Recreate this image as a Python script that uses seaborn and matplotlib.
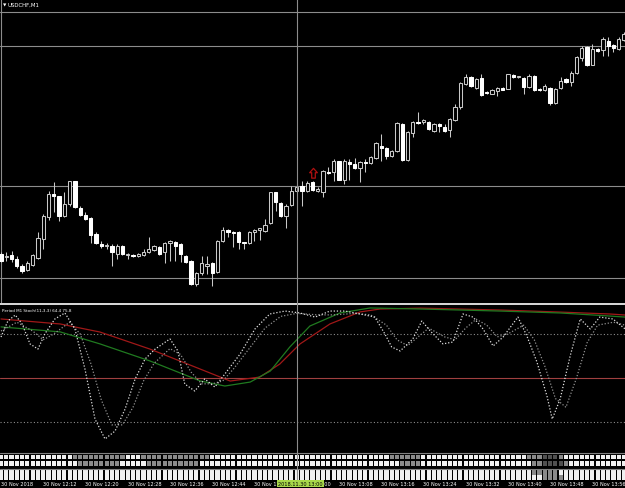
import numpy as np
import pandas as pd
import matplotlib
matplotlib.use("Agg")
import matplotlib.pyplot as plt
from matplotlib.lines import Line2D
from matplotlib.path import Path
import seaborn as sns

# ---------------- data (price in chart points) ----------------
opens = [45, 42, 44, 40, 33, 29, 34, 41, 60, 82, 105, 103, 83, 95, 118, 91, 84, 81, 65, 55,
         53, 53, 45, 53, 44, 44, 43, 44, 47, 49, 52, 47, 56, 57, 55, 43, 38, 15, 26, 33,
         36, 27, 58, 69, 67, 67, 57, 56, 67, 69, 68, 76, 107, 96, 83, 94, 108, 113, 108, 117,
         108, 107, 127, 127, 138, 119, 137, 135, 131, 137, 136, 141, 153, 151, 143, 148, 175, 139, 166, 177,
         177, 177, 168, 175, 172, 169, 179, 192, 215, 222, 211, 221, 207, 205, 208, 211, 210, 224, 222, 221,
         212, 223, 210, 209, 211, 196, 211, 220, 217, 226, 241, 252, 234, 250, 249, 258, 254, 250, 259]
highs = [47, 47, 48, 43, 35, 38, 45, 67, 85, 108, 117, 103, 107, 118, 118, 93, 87, 82, 67, 58,
         56, 55, 55, 54, 46, 45, 46, 50, 62, 54, 53, 57, 59, 58, 56, 44, 39, 27, 43, 43,
         37, 59, 72, 70, 68, 68, 57, 68, 70, 71, 80, 107, 107, 97, 95, 113, 115, 118, 118, 118,
         112, 129, 132, 140, 138, 140, 140, 141, 138, 140, 143, 157, 165, 152, 149, 177, 176, 168, 178, 187,
         180, 178, 176, 176, 175, 181, 195, 217, 225, 223, 221, 225, 208, 210, 212, 212, 225, 225, 223, 222,
         225, 224, 211, 215, 212, 211, 222, 221, 228, 243, 253, 253, 255, 251, 262, 262, 255, 262, 267]
lows = [37, 38, 37, 31, 26, 28, 33, 40, 50, 79, 87, 78, 82, 93, 91, 83, 79, 56, 55, 51,
        50, 33, 40, 44, 40, 42, 42, 43, 46, 48, 44, 36, 38, 38, 37, 36, 14, 13, 24, 25,
        13, 26, 57, 62, 52, 50, 50, 55, 58, 59, 67, 75, 88, 82, 71, 93, 107, 93, 107, 108,
        107, 102, 125, 118, 119, 115, 119, 130, 117, 127, 135, 140, 138, 140, 142, 147, 138, 138, 162, 175,
        175, 169, 167, 167, 167, 162, 178, 190, 214, 212, 210, 203, 205, 205, 203, 209, 210, 221, 221, 205,
        211, 208, 208, 208, 194, 195, 210, 216, 213, 225, 238, 233, 234, 247, 243, 243, 247, 249, 258]
closes = [38, 43, 40, 33, 28, 36, 44, 61, 83, 105, 103, 83, 95, 118, 92, 84, 80, 64, 56, 53,
          53, 47, 53, 45, 44, 43, 45, 47, 50, 53, 45, 56, 58, 53, 45, 37, 15, 26, 36, 35,
          26, 58, 69, 67, 66, 57, 56, 67, 69, 71, 74, 107, 97, 83, 93, 108, 112, 108, 116, 109,
          110, 128, 126, 138, 119, 138, 135, 131, 137, 136, 142, 156, 151, 143, 148, 176, 139, 167, 177, 176,
          179, 170, 175, 173, 168, 180, 192, 216, 222, 213, 220, 204, 206, 209, 211, 209, 225, 222, 222, 212,
          223, 209, 209, 213, 196, 210, 218, 217, 226, 242, 251, 234, 250, 248, 260, 253, 251, 260, 265]

level_lines = [287, 253, 113, 21]          # horizontal lines on the price panel
arrow_bar, arrow_level = 59, 122             # red "up" signal arrow

# stochastic (dotted) main & signal lines: (bar, value)
stoch_main_bar = [0, 1.3, 2.7, 4, 5.5, 7, 8.3, 10.2, 12.1, 14, 15.9, 17.8, 19.7, 21.6, 23.5, 25.4, 27.3, 29.2,
                  32, 33.5, 34.8, 36.7, 38.6, 40.5, 42.4, 45.3, 48.1, 50.9, 53.8, 56.6, 59.5, 62.3, 65.2, 68,
                  70.8, 72.7, 74, 75.6, 78, 79.7, 81.3, 83.7, 85.6, 87.5, 89.4, 91.3, 93.2, 95.1, 97.9, 99.6,
                  101.5, 103.4, 104.4, 105.9, 107.8, 109.7, 111.6, 113.4, 115.9, 118.2]
stoch_main_val = [77.9, 88.8, 92.9, 86.8, 73.2, 69.7, 80, 90.2, 94.3, 83.4, 56.1, 22, 8.4, 13.8, 28.8, 49.3, 63, 69.7,
                  76.6, 68.4, 45.9, 41.1, 49.3, 43.8, 52.7, 66.4, 83.4, 93.6, 95.6, 94.3, 91.5, 95.6, 95.6, 93.6,
                  91.5, 80, 71.1, 68.4, 76.6, 88.8, 82, 73.2, 74.5, 93.6, 91.5, 83.4, 71.8, 77.9, 91.5, 78.6,
                  60.9, 37.7, 22, 35.6, 65, 90.2, 83.4, 91.5, 90.2, 83.4]
stoch_sig_bar = [0, 3, 6, 8, 10, 13, 15, 17, 19, 21, 23, 25, 27, 29, 32, 34, 36, 38, 40, 42, 44, 47, 50, 53, 56,
                 60, 63, 67, 70, 73, 75, 77, 79, 81, 84, 86, 88, 90, 92, 94, 96, 99, 101, 103, 105, 107, 109,
                 111, 113, 116, 118.2]
stoch_sig_val = [82, 88, 82, 76, 80, 88, 80, 60, 35, 18, 18, 30, 48, 60, 70, 66, 54, 46, 46, 48, 56, 70, 84, 92, 94,
                 93, 93, 94, 93, 86, 76, 72, 78, 84, 78, 76, 84, 90, 86, 78, 80, 86, 76, 58, 36, 30, 50,
                 74, 86, 88, 86]

# higher-period stochastic lines (red = main, green = signal)
red_bar = [0, 11.2, 18.75, 28.2, 37.7, 43.4, 49, 52.8, 56.6, 62.3, 68, 71.8, 79.4, 94.5, 105.9, 115.3, 118.2]
red_val = [90.2, 86.8, 81.3, 69.7, 56.1, 47.9, 50.6, 59.5, 73.1, 86.8, 95, 97, 97.6, 96.3, 94.9, 93.6, 92.9]
green_bar = [0, 11.2, 18.75, 28.2, 37.7, 42.4, 47.2, 51, 54.7, 58.5, 64.2, 69.9, 79.4, 94.5, 105.9, 115.3, 118.2]
green_val = [84.8, 81.4, 73.2, 61.6, 48, 44.5, 47.2, 54.7, 71.1, 85.4, 94.3, 97.7, 97, 95.6, 94.3, 92.2, 91.5]
stoch_levels = [80, 50, 20]

time_labels = ["30 Nov 2018", "30 Nov 12:12", "30 Nov 12:20", "30 Nov 12:28", "30 Nov 12:36",
               "30 Nov 12:44", "30 Nov 12:52", "30 Nov 13:00", "30 Nov 13:08", "30 Nov 13:16",
               "30 Nov 13:24", "30 Nov 13:32", "30 Nov 13:40", "30 Nov 13:48", "30 Nov 13:56"]
time_label_bars = [0, 8, 16, 24, 32, 40, 48, 56, 64, 72, 80, 88, 96, 104, 112]
cursor_bar = 56
cursor_label = "2018.11.30 13:00"

# bottom strip: block brightness per bar (W = white, G = grey, D = dark grey)
strip_rows = [
    "WWWWWWWWWWWWWWGGGGGGGGGGWWWGGGGGGGGGGGGGWWWWWWWWWWWWWWWWWWWWWWWWWWWWWWWWWWGGGGGGWWWWWWWWWWWWWWWWWWWWGGGDDDGWWWWWWWWWWWW",
    "WWWWWWWWWWWWWWWGGGGGGGGWWWWWGGGGGGGGGGWWWWWWWWWWWWWWWWWWWWWWWWWWWWWWWWWWWWWWGGGGWWWWWWWWWWWWWWWWWWWWWGGDDDDGWWWWWWWWWWW",
    "WWWWWWWWWWWWWWWWWWWWWWWWWWWWWWWWWWWWWWWWWWWWWWWWWWWWWWWWWWWWWWWWWWWWWWWWWWWWWWWWWWWWWWWWWWWWWWWWWWWWWGGGGGWWWWWWWWWWWWW",
    "WWWWWWWWWWWWWWWWWWWWWWWWWWWWWWWWWWWWWWWWWWWWWWWWWWWWWWWWWWWWWWWWWWWWWWWWWWWWWWWWWWWWWWWWWWWWWWWWWWWWWWWGGGGWWWWWWWWWWWWW",
]

# ---------------- figure ----------------
W, H = 625, 489
sns.set_style("dark", {"axes.facecolor": "black", "figure.facecolor": "black"})
plt.rcParams["font.family"] = ["DejaVu Sans"]

fig = plt.figure(figsize=(W / 100, H / 100), dpi=100, facecolor="black")

def px_axes(top, bottom):
    return fig.add_axes([0, 1 - bottom / H, 1, (bottom - top) / H])

x0, x1 = -1 / 5.28, (W - 1) / 5.28

# price panel
ax = px_axes(0, 304)
ax.set_facecolor("black")
ax.set_xlim(x0, x1)
ax.set_ylim(-4, 300)
for s in ax.spines.values():
    s.set_visible(False)
ax.set_xticks([]); ax.set_yticks([])

n = len(opens)
bars = np.arange(n)
df = pd.DataFrame({"bar": bars, "open": opens, "high": highs, "low": lows, "close": closes})

for lv in level_lines:
    ax.axhline(lv, color="#8c8c8c", lw=0.8, zorder=1)
ax.axvline(0, color="#8c8c8c", lw=0.8, zorder=1)

edge = "#c8c8c8"
ax.vlines(df["bar"], df["low"], df["high"], color=edge, lw=0.75, zorder=2)
bull = df["close"] >= df["open"]
bottom = np.minimum(df["open"], df["close"])
height = np.maximum(np.abs(df["close"] - df["open"]), 0.6)
ax.bar(df["bar"][bull], height[bull], bottom=bottom[bull], width=0.62,
       color="black", edgecolor=edge, linewidth=0.75, zorder=3)
ax.bar(df["bar"][~bull], height[~bull], bottom=bottom[~bull], width=0.62,
       color="white", edgecolor="white", linewidth=0.75, zorder=3)

arrow_marker = Path([(0, 1), (-0.75, 0.15), (-0.35, 0.15), (-0.35, -0.9), (0.35, -0.9),
                     (0.35, 0.15), (0.75, 0.15), (0, 1)],
                    [Path.MOVETO] + [Path.LINETO] * 6 + [Path.CLOSEPOLY])
ax.scatter([arrow_bar], [arrow_level + 4.5], marker=arrow_marker, s=55, facecolors="black",
           edgecolors="#b01010", linewidths=0.9, zorder=4)

fig.text(3 / W, 1 - 5.5 / H, "\u25bc", color="white", fontsize=3.2, va="center", ha="left")
fig.text(8 / W, 1 - 5.5 / H, "USDCHF,M1", color="white", fontsize=3.9, va="center", ha="left")

# separator
fig.add_artist(Line2D([0, 1], [1 - 305 / H, 1 - 305 / H], color="white", lw=1.2))

# indicator panel
ax2 = px_axes(306, 450)
ax2.set_facecolor("black")
ax2.set_xlim(x0, x1)
ax2.set_ylim((452.3 - 450) / 1.467, (452.3 - 306) / 1.467)
for s in ax2.spines.values():
    s.set_visible(False)
ax2.set_xticks([]); ax2.set_yticks([])

ax2.axhline(stoch_levels[0], color="#8c8c8c", lw=0.8, ls=(0, (1, 2)))
ax2.axhline(stoch_levels[1], color="#a04040", lw=0.8)
ax2.axhline(stoch_levels[2], color="#8c8c8c", lw=0.8, ls=(0, (1, 2)))

sns.lineplot(x=red_bar, y=red_val, ax=ax2, color="#a01818", lw=0.9, zorder=3)
sns.lineplot(x=green_bar, y=green_val, ax=ax2, color="#207a20", lw=0.9, zorder=3)
sns.lineplot(x=stoch_sig_bar, y=stoch_sig_val, ax=ax2, color="#909090", lw=0.9,
             linestyle=(0, (1, 1.5)), zorder=4)
sns.lineplot(x=stoch_main_bar, y=stoch_main_val, ax=ax2, color="#e0e0e0", lw=0.9,
             linestyle=(0, (1, 1.5)), zorder=5)
ax2.set_xlabel(""); ax2.set_ylabel("")

fig.text(2 / W, 1 - 311 / H, "Period M1 Stoch(11,3,3) 64.4 75.8", color="white", fontsize=3.0,
         va="center", ha="left")

# bottom strip
ax3 = px_axes(451, 482)
ax3.set_facecolor("black")
ax3.set_xlim(x0, x1)
ax3.set_ylim(482, 451)
for s in ax3.spines.values():
    s.set_visible(False)
ax3.set_xticks([]); ax3.set_yticks([])
ax3.axhline(453.5, color="#808080", lw=0.8)
ax3.axhline(470, color="#808080", lw=0.8)
row_y = [458, 464.5, 473.5, 478.5]
cmap = {"W": "#f0f0f0", "G": "#8a8a8a", "D": "#505050"}
for ry, row in zip(row_y, strip_rows):
    cols = [cmap[c] for c in row[:n]]
    ax3.scatter(bars[:len(cols)], [ry] * len(cols), marker="s", s=9, c=cols, linewidths=0)

# time axis labels
for b, lab in zip(time_label_bars, time_labels):
    xp = 1 + 5.28 * b
    fig.text(xp / W, 1 - 484.5 / H, lab, color="white", fontsize=3.6, va="center", ha="left")

# vertical cursor line
xc = (1 + 5.28 * cursor_bar + 0.5) / W
fig.add_artist(Line2D([xc, xc], [1 - 481 / H, 1], color="#8c8c8c", lw=0.8))
fig.text(xc - 19 / W, 1 - 484.5 / H, cursor_label, color="black", fontsize=3.6, va="center",
         ha="left", bbox=dict(boxstyle="square,pad=0.15", fc="#a8d84a", ec="none"))

fig.savefig("out.png", dpi=100, facecolor="black")
